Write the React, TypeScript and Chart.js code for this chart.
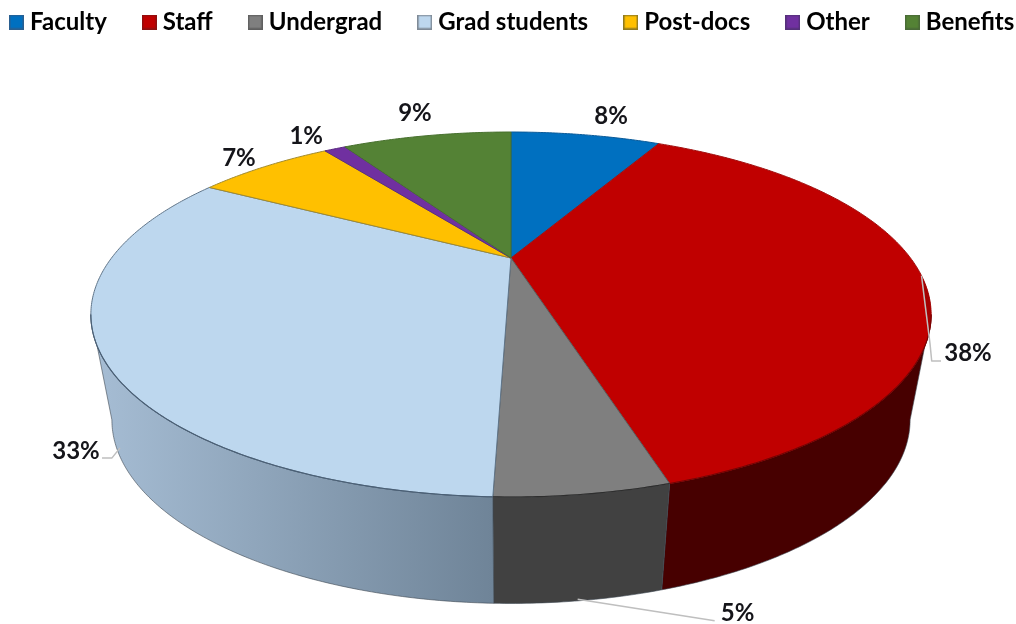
import React, { useEffect, useRef } from "react";
import { Chart, registerables } from "chart.js";

Chart.register(...registerables);

const categories = ["Faculty", "Staff", "Undergrad", "Grad students", "Post-docs", "Other", "Benefits"];
const shares = [7.8, 37.7, 5.0, 32.7, 6.9, 1.1, 8.8];
const topColors = ["#0070C0", "#C00000", "#7F7F7F", "#BDD7EE", "#FFC000", "#7030A0", "#548235"];
const swatchBorders = ["#2A5F90", "#8C1010", "#5F5F5F", "#7F8A96", "#8F7A20", "#55307A", "#4A6A38"];
const wallColors = ["#003F6C", "#470000", "#414141", "#6F8498", "#8F6C00", "#3F1B5A", "#2F4A1E"];
const edgeColors = ["#0A5A98", "#A01010", "#5A5A5A", "#5F7488", "#A08A30", "#5A2A80", "#47702E"];
const gradWallStops = ["#A5BCD3", "#6F8498"];
const labelOffsets = [[25.5, -19], [46.5, 77.4], [158, 12.4], [-45, -8], [-25.8, -8.6], [-28.7, -12.8], [-12, -22.7]];

// projection of the pie disc (perspective view from above)
const K = 0.3096;
const CX = 511;
const topFace = { a: 399.5, b: 165, y: 258 };
const lowFace = { a: 379.5, b: 166, y: 363 };
const project = (f: any, t: number) => {
  const u = Math.sin(t), v = Math.cos(t), w = 1 + K * v;
  return [CX + (f.a * u) / w, f.y - (f.b * v) / w];
};
const SIDE_A = Math.acos(-K);
const SIDE_B = 2 * Math.PI - SIDE_A;

const tracePts = (ctx: any, f: any, a: number, b: number, first: boolean) => {
  const n = Math.max(2, Math.ceil(Math.abs(b - a) / 0.01));
  for (let i = 0; i <= n; i++) {
    const p = project(f, a + ((b - a) * i) / n);
    if (i === 0 && first) ctx.moveTo(p[0], p[1]);
    else ctx.lineTo(p[0], p[1]);
  }
};

const perspectivePie = {
  id: "perspectivePie",
  beforeInit(chart: any) {
    chart.ctx.letterSpacing = "0.1px";
  },
  beforeDatasetDraw(chart: any) {
    const ctx = chart.ctx;
    const arcs = chart.getDatasetMeta(0).data;
    const range = (el: any) => [el.startAngle + Math.PI / 2, el.endAngle + Math.PI / 2];

    // side walls
    arcs.forEach((el: any, i: number) => {
      const [s, e] = range(el);
      const a = Math.max(s, SIDE_A), b = Math.min(e, SIDE_B);
      if (b <= a) return;
      ctx.save();
      ctx.beginPath();
      tracePts(ctx, topFace, a, b, true);
      tracePts(ctx, lowFace, b, a, false);
      ctx.closePath();
      if (categories[i] === "Grad students") {
        const g = ctx.createLinearGradient(100, 0, 493, 0);
        g.addColorStop(0, gradWallStops[0]);
        g.addColorStop(1, gradWallStops[1]);
        ctx.fillStyle = g;
      } else {
        ctx.fillStyle = wallColors[i];
      }
      ctx.fill();
      ctx.strokeStyle = "rgba(60,70,80,0.75)";
      ctx.lineWidth = 0.8;
      ctx.stroke();
      ctx.restore();
    });

    // top faces
    arcs.forEach((el: any, i: number) => {
      const [s, e] = range(el);
      ctx.save();
      ctx.beginPath();
      ctx.moveTo(CX, topFace.y);
      tracePts(ctx, topFace, s, e, false);
      ctx.closePath();
      ctx.fillStyle = el.options.backgroundColor;
      ctx.fill();
      ctx.strokeStyle = edgeColors[i];
      ctx.lineWidth = 1;
      ctx.stroke();
      if (categories[i] === "Staff") {
        ctx.clip();
        ctx.beginPath();
        const r = project(topFace, (s + e) / 2);
        ctx.moveTo(r[0], r[1]);
        ctx.lineTo(r[0] + 8.5, r[1] + 68);
        ctx.lineTo(r[0] + 30, r[1] + 68);
        ctx.lineTo(r[0] + 30, r[1]);
        ctx.closePath();
        ctx.fillStyle = "#A50000";
        ctx.fill();
      }
      ctx.restore();
    });

    // rim of each slice is darker where it meets its wall
    arcs.forEach((el: any, i: number) => {
      const [s, e] = range(el);
      const a = Math.max(s, SIDE_A), b = Math.min(e, SIDE_B);
      if (b <= a) return;
      ctx.save();
      ctx.beginPath();
      tracePts(ctx, topFace, a, b, true);
      ctx.strokeStyle = categories[i] === "Grad students" ? "#4A5F75" : i === 2 ? "#2E2E2E" : "#7A0000";
      ctx.lineWidth = 1.1;
      ctx.stroke();
      ctx.restore();
    });
    return false;
  },
  afterDatasetsDraw(chart: any) {
    const ctx = chart.ctx;
    const arcs = chart.getDatasetMeta(0).data;
    const total = shares.reduce((s, v) => s + v, 0);
    ctx.save();
    arcs.forEach((el: any, i: number) => {
      const mid = (el.startAngle + el.endAngle) / 2 + Math.PI / 2;
      const useLow = categories[i] === "Undergrad" || categories[i] === "Grad students";
      const r = project(useLow ? lowFace : topFace, mid);
      ctx.strokeStyle = "#BFBFBF";
      ctx.lineWidth = 1.5;
      ctx.lineJoin = "round";
      if (categories[i] === "Staff") {
        ctx.beginPath();
        ctx.moveTo(r[0], r[1]);
        ctx.lineTo(r[0] + 8.5, r[1] + 68);
        ctx.lineTo(r[0] + 10.2, r[1] + 85.4);
        ctx.lineTo(r[0] + 19.5, r[1] + 85.4);
        ctx.stroke();
      } else if (categories[i] === "Undergrad") {
        ctx.beginPath();
        ctx.moveTo(r[0] - 2, r[1] - 1.5);
        ctx.lineTo(r[0] + 135, r[1] + 20);
        ctx.stroke();
      } else if (categories[i] === "Grad students") {
        ctx.beginPath();
        ctx.moveTo(r[0] - 1, r[1] - 11);
        ctx.lineTo(r[0] - 9, r[1] - 1);
        ctx.lineTo(r[0] - 19, r[1] - 1);
        ctx.stroke();
      }
      ctx.fillStyle = "#15151A";
      ctx.font = "bold 24px Lato";
      ctx.textAlign = "center";
      ctx.textBaseline = "middle";
      ctx.fillText(
        Math.round((shares[i] / total) * 100) + "%",
        r[0] + labelOffsets[i][0],
        r[1] + labelOffsets[i][1]
      );
    });
    ctx.restore();
  },
};

const swatch = (fill: string, border: string) => {
  const c = document.createElement("canvas");
  c.width = 15;
  c.height = 15;
  const x = c.getContext("2d")!;
  x.fillStyle = fill;
  x.fillRect(0, 0, 15, 15);
  x.strokeStyle = border;
  x.lineWidth = 1.5;
  x.strokeRect(0.75, 0.75, 13.5, 13.5);
  return c;
};

export default function App() {
  const ref = useRef<HTMLCanvasElement>(null);
  useEffect(() => {
    const chart = new Chart(ref.current!, {
      type: "pie",
      data: {
        labels: categories,
        datasets: [{ data: shares, backgroundColor: topColors, borderWidth: 0 }],
      },
      plugins: [perspectivePie],
      options: {
        responsive: false,
        animation: false,
        events: [],
        layout: { padding: { top: -31, left: -26, right: -120, bottom: 0 } },
        plugins: {
          tooltip: { enabled: false },
          legend: {
            position: "top",
            align: "start",
            labels: {
              padding: 41,
              usePointStyle: true,
              pointStyleWidth: 3,
              boxHeight: 15,
              color: "#15151A",
              font: { family: "Lato", weight: "bold", size: 24 },
              generateLabels: () =>
                categories.map((text, i) => ({
                  text,
                  fillStyle: topColors[i],
                  strokeStyle: swatchBorders[i],
                  lineWidth: 0,
                  hidden: false,
                  index: i,
                  pointStyle: swatch(topColors[i], swatchBorders[i]),
                })),
            },
          },
        },
      },
    } as any);
    return () => chart.destroy();
  }, []);
  return (
    <div style={{ position: "fixed", left: 0, top: 0, width: 1016, height: 624, background: "#fff" }}>
      <canvas ref={ref} width={1016} height={624} style={{ display: "block", filter: "blur(0.5px)" }} />
    </div>
  );
}
